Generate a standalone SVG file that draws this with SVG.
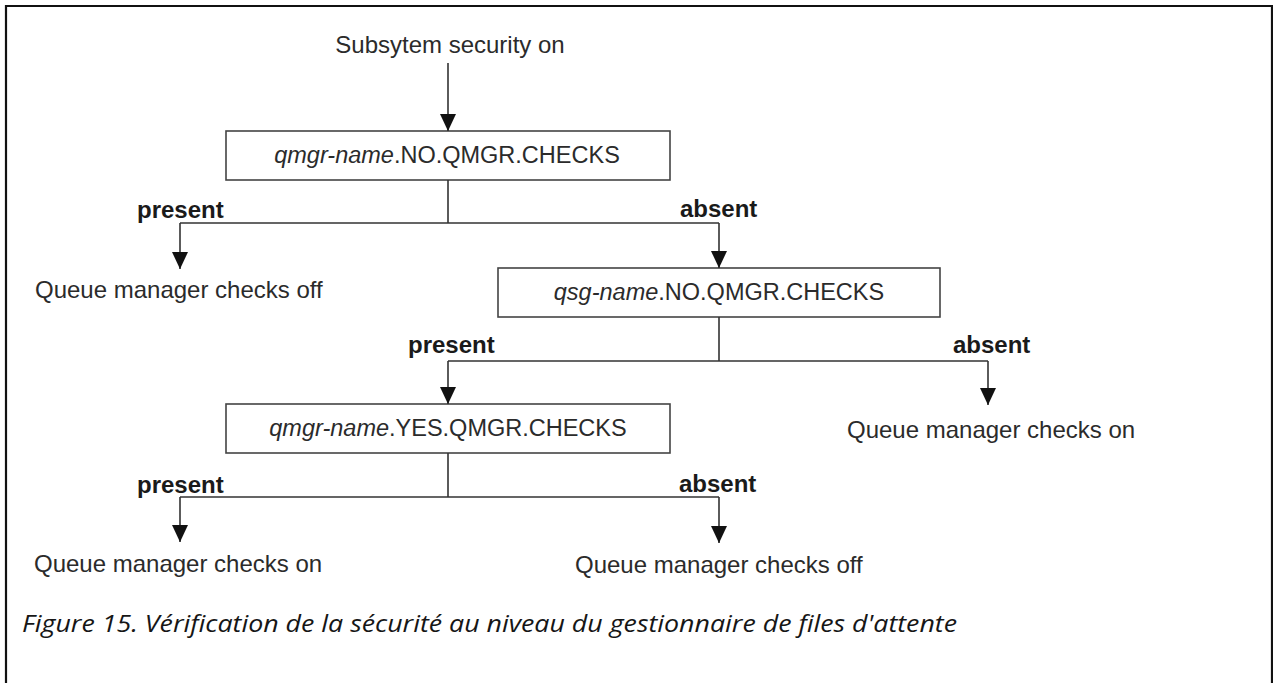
<svg xmlns="http://www.w3.org/2000/svg" width="1273" height="683" viewBox="0 0 1273 683">
<style>
.lbl{font-family:"Liberation Sans",Arial,sans-serif;font-size:24px;fill:#2b2b2b}
.b{font-weight:bold;fill:#1a1a1a}
.box{fill:#fff;stroke:#444;stroke-width:1.6}
.bt{font-family:"Liberation Sans",Arial,sans-serif;font-size:23.5px;fill:#2b2b2b;text-anchor:middle}
.it{font-style:italic}
.ln{fill:none;stroke:#333;stroke-width:1.6}
.cap{font-family:"Open Sans","Noto Sans",sans-serif;font-style:italic;font-size:23px;fill:#161616}
</style>
<defs>
<marker id="ah" markerWidth="17" markerHeight="16" refX="17" refY="8" orient="auto" markerUnits="userSpaceOnUse" viewBox="0 0 17 16">
<path d="M0,0 L17,8 L0,16 Z" fill="#111"/>
</marker>
</defs>
<rect width="1273" height="683" fill="#fff"/>
<path d="M6,683 V6 H1272 V683" fill="none" stroke="#111" stroke-width="2.2"/>

<g id="start"><text class="lbl" x="450" y="53" text-anchor="middle">Subsytem security on</text></g>

<g id="box1"><rect class="box" x="226" y="131" width="444" height="49"/>
<text class="bt" x="447" y="163"><tspan class="it">qmgr-name</tspan>.NO.QMGR.CHECKS</text></g>

<g id="box2"><rect class="box" x="498" y="268" width="442" height="49"/>
<text class="bt" x="719" y="300"><tspan class="it">qsg-name</tspan>.NO.QMGR.CHECKS</text></g>

<g id="box3"><rect class="box" x="226" y="404" width="444" height="49"/>
<text class="bt" x="448" y="436"><tspan class="it">qmgr-name</tspan>.YES.QMGR.CHECKS</text></g>

<g id="out1"><text class="lbl" x="35" y="298">Queue manager checks off</text></g>
<g id="out2"><text class="lbl" x="847" y="438">Queue manager checks on</text></g>
<g id="out3"><text class="lbl" x="34" y="572">Queue manager checks on</text></g>
<g id="out4"><text class="lbl" x="575" y="573">Queue manager checks off</text></g>

<g id="connectors">
<path class="ln" d="M448,63 V131" marker-end="url(#ah)"/>
<path class="ln" d="M448,180 V223 M180,223 H719"/>
<path class="ln" d="M180,223 V269" marker-end="url(#ah)"/>
<path class="ln" d="M719,223 V268" marker-end="url(#ah)"/>
<path class="ln" d="M719,317 V361 M448,361 H988"/>
<path class="ln" d="M448,361 V404" marker-end="url(#ah)"/>
<path class="ln" d="M988,361 V405" marker-end="url(#ah)"/>
<path class="ln" d="M448,453 V497 M180,497 H719"/>
<path class="ln" d="M180,497 V542" marker-end="url(#ah)"/>
<path class="ln" d="M719,497 V543" marker-end="url(#ah)"/>
<text class="lbl b" x="137" y="218">present</text>
<text class="lbl b" x="680" y="217">absent</text>
<text class="lbl b" x="408" y="353">present</text>
<text class="lbl b" x="953" y="353">absent</text>
<text class="lbl b" x="137" y="493">present</text>
<text class="lbl b" x="679" y="492">absent</text>
</g>

<g id="caption"><text class="cap" x="22" y="632" textLength="935" lengthAdjust="spacingAndGlyphs">Figure 15. Vérification de la sécurité au niveau du gestionnaire de files d'attente</text></g>
</svg>
